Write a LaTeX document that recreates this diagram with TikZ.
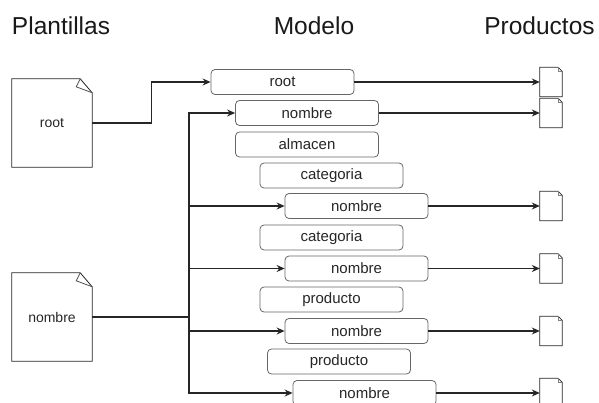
\documentclass[tikz,border=0pt]{standalone}
\usepackage{fontspec}
\setmainfont{Liberation Sans}
\usetikzlibrary{arrows.meta,calc}
\begin{document}
\begin{tikzpicture}[x=1pt,y=-1pt,
  hdr/.style={font=\fontsize{24.5}{28}\selectfont, text=black!90, inner sep=0pt, anchor=base},
  mbox/.style={draw=black!60, line width=0.8pt, rounded corners=4pt, minimum width=143pt, minimum height=25pt, inner sep=0pt, font=\fontsize{15}{18}\selectfont, text=black!85},
  tpl/.style={minimum width=80pt, minimum height=88pt, inner sep=0pt, font=\fontsize{14}{17}\selectfont, text=black!85},
  outdoc/.style={minimum width=22pt, minimum height=29pt, inner sep=0pt},
  conn/.style={line width=1.2pt, black!85},
  arr/.style={conn, -{Stealth[length=8pt,width=7pt]}}
]
\useasboundingbox (0,0) rectangle (599,403);
% headers
\node[hdr] (hp) at (61,35) {Plantillas};
\node[hdr] (hm) at (314,35) {Modelo};
\node[hdr] (hq) at (539.5,35) {Productos};
% templates
\node[tpl] (t1) at (52,123) {root};
\node[tpl] (t2) at (52,317) {nombre};
\foreach \t in {t1,t2}{
  \draw[black!85, line width=0.8pt] (\t.north west) -- ($(\t.north east)+(-12,0)$) -- ($(\t.north east)+(0,14)$) -- (\t.south east) -- (\t.south west) -- cycle;
  \draw[black!70, line width=0.8pt] ($(\t.north east)+(-12,0)$) -- ($(\t.north east)+(-16,8)$) -- ($(\t.north east)+(0,14)$);
}
% model boxes
\node[mbox] (root) at (282.5,82) {root};
\node[mbox] (n1) at (307,113) {nombre};
\node[mbox] (alm) at (307,144.5) {almacen};
\node[mbox] (c1) at (331.5,175.5) {categoria};
\node[mbox] (n2) at (356.5,206) {nombre};
\node[mbox] (c2) at (331.5,237.5) {categoria};
\node[mbox] (n3) at (356.5,268.5) {nombre};
\node[mbox] (p1) at (331.5,299.5) {producto};
\node[mbox] (n4) at (356.5,331) {nombre};
\node[mbox] (p2) at (339,361.5) {producto};
\node[mbox] (n5) at (364.5,393) {nombre};
% output docs
\node[outdoc] (o1) at (551,82) {};
\node[outdoc] (o2) at (551,113) {};
\node[outdoc] (o3) at (551,206) {};
\node[outdoc] (o4) at (551,268.5) {};
\node[outdoc] (o5) at (551,331) {};
\node[outdoc] (o6) at (551,393) {};
\foreach \o in {o1,o2,o3,o4,o5,o6}{
  \draw[black!85, line width=0.8pt] (\o.north west) -- ($(\o.north east)+(-4,0)$) -- ($(\o.north east)+(0,4)$) -- (\o.south east) -- (\o.south west) -- cycle;
  \draw[black!50, line width=0.5pt] ($(\o.north east)+(-4,0)$) -- ($(\o.north east)+(-4,4)$) -- ($(\o.north east)+(0,4)$);
}
% connectors
\draw[arr] (t1.east) -- ++(59,0) |- (root.west);
\coordinate (bus) at (189,317);
\draw[conn] (t2.east) -- (bus);
\foreach \n in {n1,n2,n3,n4,n5}{
  \draw[arr] (bus) |- (\n.west);
}
\draw[arr] (root.east) -- (o1.west);
\draw[arr] (n1.east) -- (o2.west);
\draw[arr] (n2.east) -- (o3.west);
\draw[arr] (n3.east) -- (o4.west);
\draw[arr] (n4.east) -- (o5.west);
\draw[arr] (n5.east) -- (o6.west);
\end{tikzpicture}
\end{document}
